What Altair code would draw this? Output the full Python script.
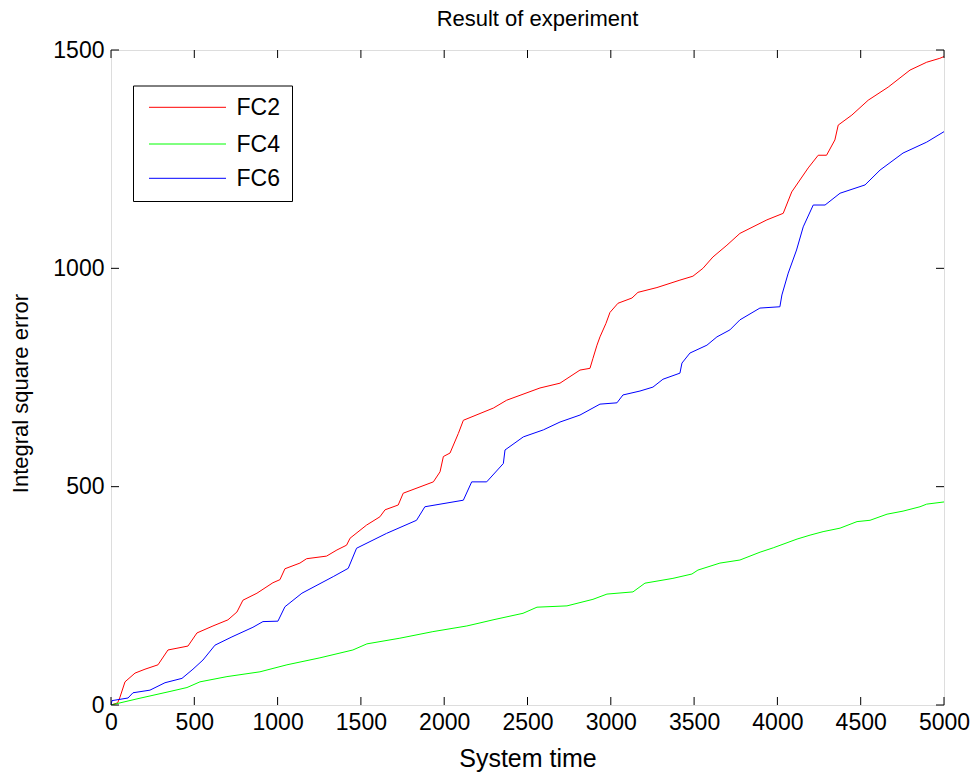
import altair as alt
import pandas as pd

# Integral square error over system time for three controllers
fc2_t = [0, 40, 54, 84, 144, 204, 282, 342, 396, 462, 516, 612, 702, 756, 792, 876,
         972, 1014, 1044, 1134, 1174, 1294, 1356, 1414, 1435, 1534, 1614, 1645, 1724,
         1754, 1935, 1975, 1995, 2035, 2085, 2115, 2295, 2375, 2575, 2695, 2815, 2875,
         2893, 2917, 2935, 2971, 2995, 3043, 3127, 3163, 3277, 3415, 3493, 3553, 3613,
         3697, 3775, 3937, 4035, 4086, 4185, 4245, 4295, 4345, 4365, 4447, 4545, 4665,
         4796, 4896, 4975, 5000]
fc2_v = [0, 5, 18, 53, 73, 82, 92, 126, 130, 135, 165, 181, 195, 213, 240, 256,
         280, 287, 312, 325, 335, 341, 355, 366, 382, 412, 431, 447, 458,
         485, 511, 534, 569, 577, 622, 652, 680, 698, 726, 737, 767, 771,
         794, 824, 843, 874, 899, 920, 932, 945, 956, 973, 982, 1000, 1026,
         1053, 1080, 1111, 1126, 1175, 1230, 1259, 1259, 1294, 1328, 1351, 1385, 1415,
         1454, 1472, 1481, 1485]

fc4_t = [0, 156, 354, 456, 534, 696, 894, 1056, 1254, 1452, 1536, 1734, 1932, 2136,
         2215, 2293, 2473, 2557, 2737, 2893, 2977, 3133, 3205, 3373, 3487, 3523, 3655,
         3775, 3896, 3975, 4118, 4196, 4274, 4376, 4478, 4556, 4658, 4754, 4856, 4896,
         5000]
fc4_v = [0, 14, 31, 40, 53, 65, 76, 92, 108, 126, 140, 153, 168, 181,
         188, 195, 210, 224, 227, 242, 254, 259, 279, 290, 300, 309, 325,
         332, 350, 360, 380, 389, 397, 405, 420, 423, 437, 444, 454, 460,
         465]

fc6_t = [0, 6, 102, 132, 234, 324, 426, 492, 552, 624, 726, 852, 912, 1002, 1044,
         1146, 1334, 1424, 1474, 1654, 1834, 1884, 2115, 2165, 2255, 2355, 2365, 2475,
         2595, 2695, 2815, 2935, 3037, 3073, 3175, 3253, 3313, 3415, 3427, 3475, 3577,
         3637, 3715, 3775, 3895, 4015, 4027, 4065, 4115, 4155, 4215, 4286, 4376, 4526,
         4616, 4754, 4896, 5000]
fc6_v = [0, 10, 16, 28, 34, 51, 61, 82, 103, 137, 156, 178, 191, 192, 225,
         256, 294, 313, 359, 393, 423, 454, 469, 511, 511, 553, 584, 614,
         630, 648, 664, 689, 692, 710, 719, 728, 746, 760, 783, 806, 824,
         843, 859, 882, 909, 912, 939, 989, 1042, 1095, 1145, 1145, 1172, 1191,
         1225, 1264, 1289, 1313]

series_names = ["FC2", "FC4", "FC6"]
series_colors = ["#ff0000", "#00ff00", "#0000ff"]

x_ticks = [0, 500, 1000, 1500, 2000, 2500, 3000, 3500, 4000, 4500, 5000]
y_ticks = [0, 500, 1000, 1500]

W, H = 833, 655
FONT = "Liberation Sans"
TICK = 8

rows = []
for name, ts, vs in zip(series_names, [fc2_t, fc4_t, fc6_t], [fc2_v, fc4_v, fc6_v]):
    for i, (t, v) in enumerate(zip(ts, vs)):
        rows.append({"series": name, "t": t, "v": v, "order": i})
df = pd.DataFrame(rows)

x_scale = alt.Scale(domain=[0, 5000], nice=False, zero=False)
y_scale = alt.Scale(domain=[0, 1500], nice=False, zero=False)
color_scale = alt.Scale(domain=series_names, range=series_colors)

lines = alt.Chart(df).mark_line(strokeWidth=1, clip=True).encode(
    x=alt.X("t:Q", scale=x_scale,
            axis=alt.Axis(values=x_ticks, format="d", title="System time",
                          ticks=False, domain=False, grid=False, labelPadding=6,
                          labelFontSize=23, titleFontSize=25, titlePadding=12,
                          labelColor="black", titleColor="black",
                          titleFontWeight="normal", labelFont=FONT, titleFont=FONT,
                          labelFlush=False)),
    y=alt.Y("v:Q", scale=y_scale,
            axis=alt.Axis(values=y_ticks, format="d", title="Integral square error",
                          ticks=False, domain=False, grid=False, labelPadding=7,
                          labelFontSize=23, titleFontSize=22, titlePadding=20,
                          titleY=343,
                          labelColor="black", titleColor="black",
                          titleFontWeight="normal", labelFont=FONT, titleFont=FONT)),
    color=alt.Color("series:N", scale=color_scale, legend=None),
    order="order:Q",
)

# inward tick marks on all four sides
xt = pd.DataFrame({"t": x_ticks})
yt = pd.DataFrame({"v": y_ticks})
x_ticks_bottom = alt.Chart(xt).mark_rule(color="black", strokeWidth=1).encode(
    x=alt.X("t:Q", scale=x_scale), y=alt.value(H), y2=alt.value(H - TICK))
x_ticks_top = alt.Chart(xt).mark_rule(color="black", strokeWidth=1).encode(
    x=alt.X("t:Q", scale=x_scale), y=alt.value(0), y2=alt.value(TICK))
y_ticks_left = alt.Chart(yt).mark_rule(color="black", strokeWidth=1).encode(
    y=alt.Y("v:Q", scale=y_scale), x=alt.value(0), x2=alt.value(TICK))
y_ticks_right = alt.Chart(yt).mark_rule(color="black", strokeWidth=1).encode(
    y=alt.Y("v:Q", scale=y_scale), x=alt.value(W), x2=alt.value(W - TICK))

# boxed legend in the upper-left corner
legend_df = pd.DataFrame({"series": series_names})
legend_box = alt.Chart(legend_df.head(1)).mark_rect(
    fill="white", stroke="black", strokeWidth=1
).encode(x=alt.value(22.5), x2=alt.value(181.5), y=alt.value(36), y2=alt.value(151.5))

legend_layers = [legend_box]
row_y = [57.3, 94, 128.3]
for i, name in enumerate(series_names):
    entry = alt.Chart(legend_df[legend_df["series"] == name])
    legend_layers.append(entry.mark_rule(strokeWidth=1).encode(
        x=alt.value(38), x2=alt.value(115), y=alt.value(row_y[i]),
        color=alt.Color("series:N", scale=color_scale, legend=None)))
    legend_layers.append(entry.mark_text(
        align="left", baseline="middle", fontSize=23, font=FONT, color="black", dy=1
    ).encode(x=alt.value(125.5), y=alt.value(row_y[i]), text="series:N"))

chart = alt.layer(
    lines, x_ticks_bottom, x_ticks_top, y_ticks_left, y_ticks_right, *legend_layers
).properties(
    width=W, height=H,
    title=alt.TitleParams("Result of experiment", fontSize=22, font=FONT,
                          fontWeight="normal", color="black", anchor="middle",
                          offset=8, dx=10),
    autosize=alt.AutoSizeParams(type="none"),
    padding={"left": 111, "top": 50, "right": 31, "bottom": 70},
).configure_view(
    stroke="black", strokeWidth=1.3
).configure(background="white")

chart.save("out.html", embed_options={"renderer": "svg", "actions": False})
